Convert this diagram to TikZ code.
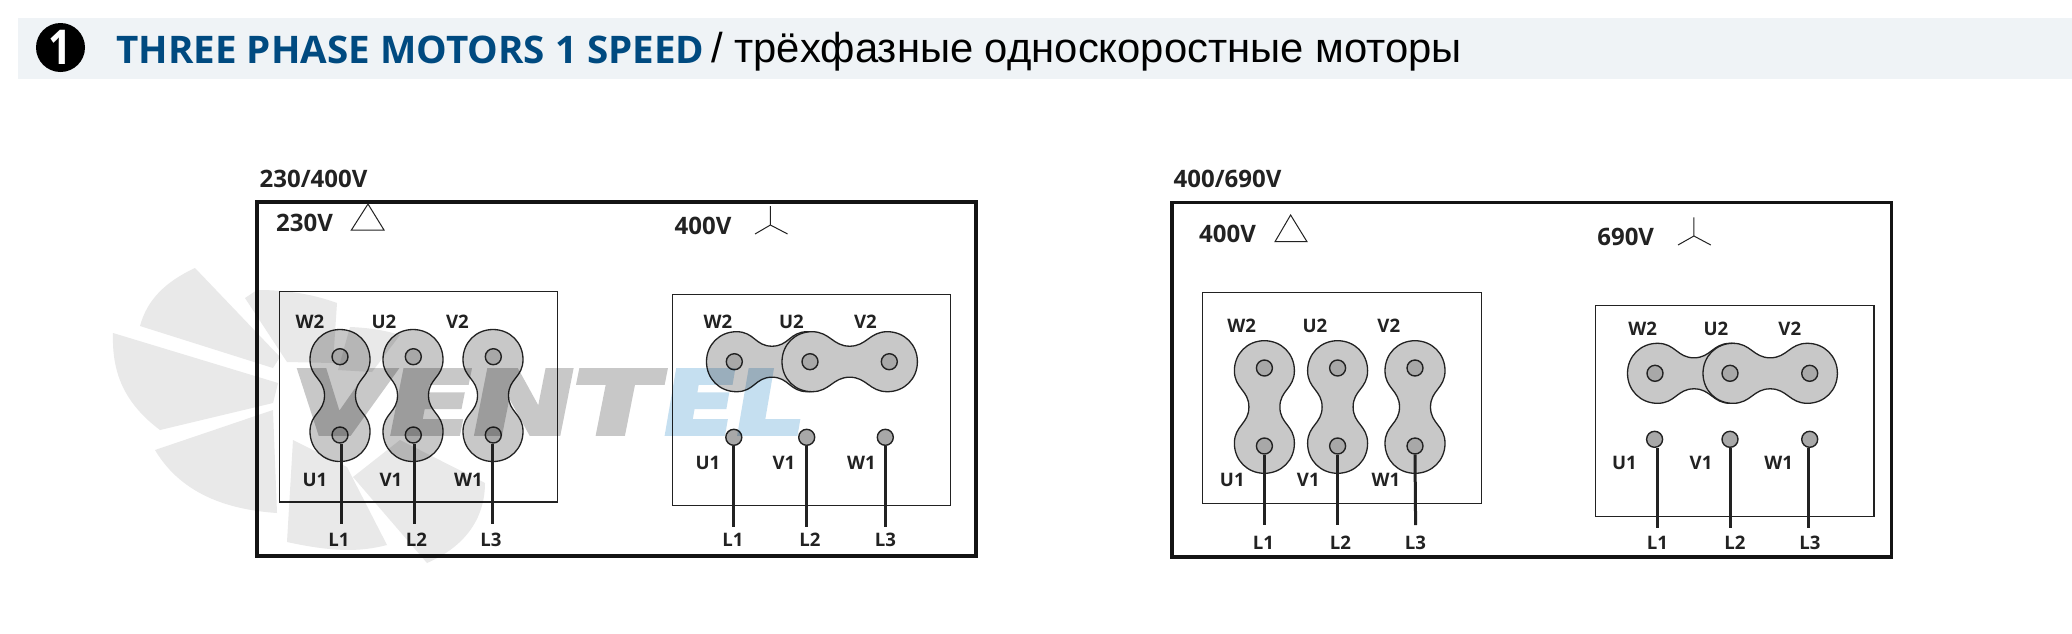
\documentclass[tikz,border=0pt]{standalone}
\usepackage{fontspec}
\setmainfont{Open Sans}
\newfontfamily\rufont{Liberation Sans}
\newfontfamily\wmfont{DejaVu Sans Bold}[FakeBold=5,FakeSlant=0.14]
\usetikzlibrary{shapes.geometric}
\definecolor{barbg}{HTML}{EFF3F6}
\definecolor{titleblue}{HTML}{004A80}
\definecolor{linkfill}{HTML}{C8C8C8}
\definecolor{termfill}{HTML}{A8A8A8}
\definecolor{ink}{HTML}{222222}
\definecolor{fanblade}{HTML}{E9E9E9}
\definecolor{wmgray}{HTML}{C8C8C8}
\definecolor{wmblue}{HTML}{C5DFF0}
\newcommand{\fs}[1]{\fontsize{#1}{#1}\selectfont}
\tikzset{
  x=0.5pt,y=-0.5pt,
  lab/.style={inner sep=0pt,font=\bfseries\fs{9.3},text=ink,scale=1},
  volt/.style={inner sep=0pt,font=\bfseries\fs{12},text=ink},
  outerbox/.style={draw=black!92,line width=1.75pt},
  innerbox/.style={draw=ink,line width=0.75pt},
  symbolline/.style={draw=ink,line width=0.5pt},
  term/.style={circle,draw=ink,fill=termfill,line width=0.7pt,minimum size=8pt,inner sep=0pt},
  wire/.style={draw=ink,line width=1.5pt},
  linkpic/.pic={
    \draw[draw=ink,fill=linkfill,line width=0.65pt]
      (-#1,0) .. controls (-#1,17) and (-#1+13,30) .. (-#1+30,30)
      .. controls (-#1+48,30) and (-17,15.5) .. (0,15.5)
      .. controls (17,15.5) and (#1-48,30) .. (#1-30,30)
      .. controls (#1-13,30) and (#1,17) .. (#1,0)
      .. controls (#1,-17) and (#1-13,-30) .. (#1-30,-30)
      .. controls (#1-48,-30) and (17,-15.5) .. (0,-15.5)
      .. controls (-17,-15.5) and (-#1+48,-30) .. (-#1+30,-30)
      .. controls (-#1+13,-30) and (-#1,-17) .. (-#1,0) -- cycle;
  }
}
\begin{document}
\begin{tikzpicture}
\useasboundingbox (0,0) rectangle (2072,633);
\fill[white] (0,0) rectangle (2072,633);
% header
\fill[barbg] (18,18) rectangle (2072,79);
\node[circle,fill=black,minimum size=24.5pt,inner sep=0pt,text=white,font=\bfseries\fs{24}] (num) at (60.5,47.5) {\scalebox{0.85}[1]{1}};
\node[anchor=west,inner sep=0pt,text=titleblue,font=\bfseries\fs{19}] (title) at (116,49.5) {\scalebox{1.015}[1]{THREE PHASE MOTORS 1 SPEED}};
\node[anchor=west,inner sep=0pt,text=black,font=\rufont\fs{20.9}] (titleru) at (711,52) {/ трёхфазные односкоростные моторы};
% --- left frame
\node[volt] (ahead) at (313.5,179) {230/400V};
\draw[outerbox] (257,202) rectangle (976,556);
\node[volt] (av1) at (304.5,222.5) {230V};
\draw[symbolline] (368,204) -- (384,230) -- (351.4,230) -- cycle;
\node[volt] (av2) at (703,225.5) {400V};
\draw[symbolline] (770.4,206) -- (770.4,225) (755,234) -- (770.4,225) -- (787.6,234);
\draw[innerbox] (279.7,291.7) rectangle (557.5,502);
\draw[innerbox] (672.3,294.3) rectangle (950.7,505.3);
% panel A links
\pic[rotate=90] at (340,395.5) {linkpic=66};
\pic[rotate=90] at (413,395.5) {linkpic=66};
\pic[rotate=90] at (493,395.5) {linkpic=66};
\node[term] (a1) at (340,356.7) {};
\node[term] (a2) at (413.3,356.7) {};
\node[term] (a3) at (493.3,356.7) {};
\node[term] (a4) at (340,435) {};
\node[term] (a5) at (413.3,435) {};
\node[term] (a6) at (493.3,435) {};
\node[lab] (aW2) at (310,321.5) {W2};
\node[lab] (aU2) at (384,321.5) {U2};
\node[lab] (aV2) at (457.5,321.5) {V2};
\node[lab] (aU1) at (315,479.5) {U1};
\node[lab] (aV1) at (391,479.5) {V1};
\node[lab] (aW1) at (468.5,479.5) {W1};
\node[lab] (aL1) at (339,539.5) {L1};
\node[lab] (aL2) at (416.5,539.5) {L2};
\node[lab] (aL3) at (491,539.5) {L3};
\coordinate (ae1) at (341,524);
\coordinate (ae2) at (414.3,524);
\coordinate (ae3) at (492.7,524);
\draw[wire] (ae1 |- a4.south) -- (ae1);
\draw[wire] (ae2 |- a5.south) -- (ae2);
\draw[wire] (ae3 |- a6.south) -- (ae3);
% panel B links
\pic at (772,361.7) {linkpic=65.5};
\pic at (849.7,361.7) {linkpic=67.7};
\node[term] (b1) at (734.3,361.7) {};
\node[term] (b2) at (810,361.7) {};
\node[term] (b3) at (889.3,361.7) {};
\node[term] (b4) at (733.8,437.3) {};
\node[term] (b5) at (806.7,437.3) {};
\node[term] (b6) at (885.3,437.3) {};
\node[lab] (bW2) at (718,322) {W2};
\node[lab] (bU2) at (791.5,322) {U2};
\node[lab] (bV2) at (865.5,322) {V2};
\node[lab] (bU1) at (708,462.5) {U1};
\node[lab] (bV1) at (784,462.5) {V1};
\node[lab] (bW1) at (861.5,462.5) {W1};
\node[lab] (bL1) at (733,539.5) {L1};
\node[lab] (bL2) at (810,539.5) {L2};
\node[lab] (bL3) at (885.5,539.5) {L3};
\coordinate (be1) at (733.8,526.7);
\coordinate (be2) at (806.7,526.7);
\coordinate (be3) at (885.3,526.7);
\draw[wire] (b4.south) -- (be1);
\draw[wire] (b5.south) -- (be2);
\draw[wire] (b6.south) -- (be3);
% --- right frame
\node[volt] (chead) at (1227.5,179) {400/690V};
\draw[outerbox] (1172,202.7) rectangle (1891.6,557);
\node[volt] (cv1) at (1227.5,233.7) {400V};
\draw[symbolline] (1290.6,215) -- (1307,241.7) -- (1275,241.7) -- cycle;
\node[volt] (dv2) at (1625.7,236.5) {690V};
\draw[symbolline] (1693.9,217.3) -- (1693.9,236) (1678,245) -- (1693.9,236) -- (1710.8,245);
\draw[innerbox] (1202.4,292.7) rectangle (1481.6,503.3);
\draw[innerbox] (1595.5,305.7) rectangle (1874,516.7);
% panel C links
\pic[rotate=90] at (1264.4,407) {linkpic=66.3};
\pic[rotate=90] at (1337.6,407) {linkpic=66.3};
\pic[rotate=90] at (1415,407) {linkpic=66.3};
\node[term] (c1) at (1264.4,368) {};
\node[term] (c2) at (1337.6,368) {};
\node[term] (c3) at (1415,368) {};
\node[term] (c4) at (1264.4,446) {};
\node[term] (c5) at (1337.6,446) {};
\node[term] (c6) at (1415,446) {};
\node[lab] (cW2) at (1241.7,326) {W2};
\node[lab] (cU2) at (1315,326) {U2};
\node[lab] (cV2) at (1388.8,326) {V2};
\node[lab] (cU1) at (1232.3,480) {U1};
\node[lab] (cV1) at (1308.3,480) {V1};
\node[lab] (cW1) at (1385.8,480) {W1};
\node[lab] (cL1) at (1263.3,542.5) {L1};
\node[lab] (cL2) at (1340.5,542.5) {L2};
\node[lab] (cL3) at (1415.5,542.5) {L3};
\coordinate (ce1) at (1264.4,525);
\coordinate (ce2) at (1337.6,525);
\coordinate (ce3) at (1415.6,525);
\draw[wire] (c4.south) -- (ce1);
\draw[wire] (c5.south) -- (ce2);
\draw[wire] (c6.south) -- (ce3);
% panel D links
\pic at (1694,373.3) {linkpic=66.5};
\pic at (1770.2,373.3) {linkpic=67.2};
\node[term] (d1) at (1655,373.3) {};
\node[term] (d2) at (1730,373.3) {};
\node[term] (d3) at (1809.7,373.3) {};
\node[term] (d4) at (1654.6,439.3) {};
\node[term] (d5) at (1730,439.3) {};
\node[term] (d6) at (1809.7,439.3) {};
\node[lab] (dW2) at (1642.7,329) {W2};
\node[lab] (dU2) at (1716,329) {U2};
\node[lab] (dV2) at (1789.8,329) {V2};
\node[lab] (dU1) at (1624.5,462.5) {U1};
\node[lab] (dV1) at (1701,462.5) {V1};
\node[lab] (dW1) at (1778.7,462.5) {W1};
\node[lab] (dL1) at (1657.5,542.5) {L1};
\node[lab] (dL2) at (1735,542.5) {L2};
\node[lab] (dL3) at (1809.8,542.5) {L3};
\coordinate (de1) at (1657,528);
\coordinate (de2) at (1730,528);
\coordinate (de3) at (1808.7,528);
\draw[wire] (de1 |- d4.south) -- (de1);
\draw[wire] (d5.south) -- (de2);
\draw[wire] (de3 |- d6.south) -- (de3);
% --- watermark
\begin{scope}[blend mode=multiply]
\fill[fanblade] (140,326) .. controls (147,300) and (165,282) .. (195,268) -- (280,357) -- (273,368) -- cycle;
\fill[fanblade] (113,333) .. controls (112,367) and (120,400) .. (160,430) -- (273,403) -- (278,383) -- cycle;
\fill[fanblade] (155,450) .. controls (183,497) and (233,510) .. (277,513) -- (273,410) -- cycle;
\fill[fanblade] (293,440) -- (287,542) .. controls (333,552) and (360,552) .. (387,545) -- (347,467) -- cycle;
\fill[fanblade] (353,477) -- (427,563) .. controls (473,543) and (485,510) .. (485,483) -- (400,440) -- cycle;
\fill[fanblade] (245,298) -- (257,290) .. controls (290,290) and (315,295) .. (337,303) -- (333,363) -- (287,362) -- cycle;
\fill[fanblade] (350,327) .. controls (375,328) and (390,332) .. (400,335) -- (372,372) -- (338,370) -- cycle;
\end{scope}
\begin{scope}[transparency group,blend mode=multiply]
\node[inner sep=0pt,text=wmgray,font=\wmfont\fs{43.5}] (wm1) at (470,402) {\pgfsetstrokecolor{wmgray}\scalebox{1.41}[1]{VENT}};
\node[inner sep=0pt,text=wmblue,font=\wmfont\fs{43.5}] (wm2) at (728,402) {\pgfsetstrokecolor{wmblue}\scalebox{1.22}[1]{EL}};
\end{scope}
\end{tikzpicture}
\end{document}
